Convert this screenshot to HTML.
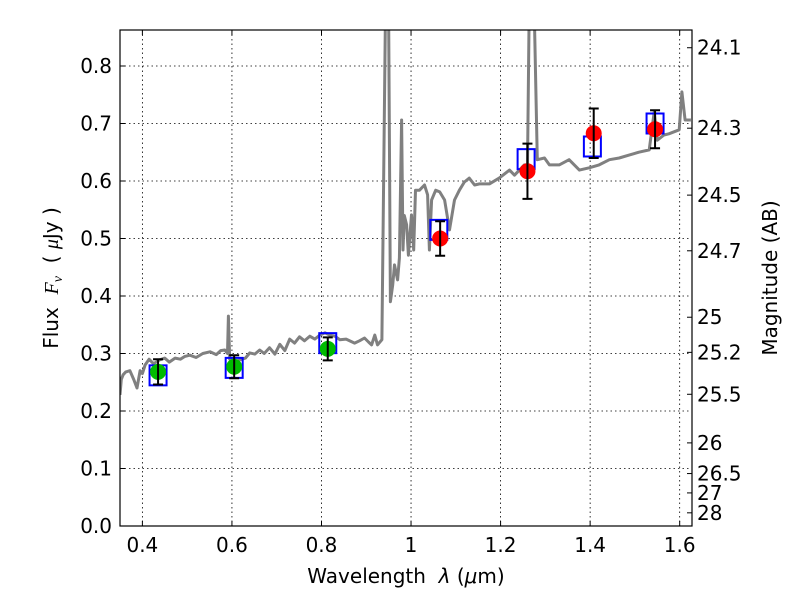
<!DOCTYPE html>
<html><head><meta charset="utf-8"><style>
body{margin:0;background:#fff}
svg text{font-family:"DejaVu Sans","Liberation Sans",sans-serif;fill:#000;white-space:pre}
</style></head><body>
<svg id="chart" width="800" height="600" xmlns="http://www.w3.org/2000/svg">
<rect width="800" height="600" fill="#fff"/>
<g id="grid"></g>
<g id="spec"></g>
<g id="marks"></g>
<rect x="120" y="30" width="572" height="496" fill="none" stroke="#000" stroke-width="1.2"/>
<g id="axes"></g>
<text x="406" y="583" font-size="20" text-anchor="middle">Wavelength&#160;&#160;<tspan font-style="italic">λ</tspan> (<tspan font-style="italic">μ</tspan>m)</text>
<text transform="translate(58,278) rotate(-90)" font-size="20" text-anchor="middle">Flux&#160;&#160;<tspan font-family="Liberation Serif" font-style="italic">F<tspan font-size="14" dy="4">ν</tspan></tspan><tspan dy="-4">&#160;&#160;(&#160;</tspan><tspan font-style="italic" font-family="Liberation Serif">μ</tspan>Jy )</text>
<text transform="translate(777,278) rotate(-90)" font-size="20" text-anchor="middle">Magnitude (AB)</text>
</svg>
<script>
const specLam=[0.350,0.353,0.357,0.363,0.372,0.381,0.388,0.395,0.400,0.406,0.415,0.425,0.439,0.450,0.460,0.473,0.485,0.495,0.506,0.520,0.535,0.551,0.565,0.575,0.584,0.590,0.592,0.595,0.605,0.618,0.630,0.640,0.651,0.662,0.672,0.684,0.696,0.707,0.718,0.729,0.740,0.751,0.762,0.774,0.785,0.796,0.808,0.818,0.830,0.841,0.855,0.874,0.885,0.896,0.905,0.912,0.919,0.925,0.935,0.943,0.946,0.950,0.954,0.959,0.963,0.970,0.974,0.979,0.982,0.985,0.990,0.994,1.001,1.006,1.010,1.019,1.030,1.037,1.041,1.046,1.055,1.064,1.075,1.086,1.097,1.108,1.119,1.130,1.142,1.153,1.175,1.197,1.220,1.231,1.242,1.253,1.260,1.264,1.275,1.282,1.298,1.309,1.331,1.353,1.376,1.398,1.420,1.443,1.465,1.487,1.509,1.532,1.543,1.550,1.565,1.576,1.599,1.605,1.612,1.625];
const specFlux=[0.228,0.255,0.263,0.268,0.270,0.254,0.240,0.270,0.265,0.280,0.290,0.282,0.289,0.292,0.285,0.292,0.290,0.295,0.297,0.293,0.300,0.303,0.298,0.305,0.306,0.300,0.365,0.290,0.285,0.289,0.292,0.301,0.299,0.306,0.300,0.310,0.299,0.316,0.305,0.325,0.318,0.329,0.322,0.330,0.325,0.332,0.336,0.332,0.330,0.324,0.325,0.318,0.322,0.327,0.320,0.315,0.332,0.315,0.324,0.900,0.900,0.900,0.390,0.419,0.454,0.428,0.466,0.706,0.480,0.540,0.524,0.471,0.541,0.480,0.584,0.584,0.593,0.576,0.480,0.567,0.584,0.581,0.567,0.515,0.567,0.584,0.598,0.605,0.593,0.595,0.595,0.605,0.619,0.610,0.619,0.628,0.628,0.900,0.900,0.637,0.640,0.628,0.628,0.637,0.619,0.623,0.628,0.637,0.640,0.645,0.650,0.654,0.720,0.671,0.680,0.682,0.689,0.755,0.706,0.706];
const obsLam=[0.435,0.605,0.814,1.065,1.260,1.408,1.545];
const obsFlux=[0.268,0.277,0.308,0.500,0.617,0.683,0.690];
const obsErr=[0.022,0.020,0.020,0.030,0.048,0.043,0.033];
const obsColor=['#00bb00','#00bb00','#00bb00','#ff0000','#ff0000','#ff0000','#ff0000'];
const modelLam=[0.435,0.605,0.814,1.062,1.257,1.405,1.545];
const modelFlux=[0.262,0.275,0.318,0.515,0.638,0.660,0.700];
const xTicks=[0.4,0.6,0.8,1.0,1.2,1.4,1.6];
const xTickLabels=['0.4','0.6','0.8','1','1.2','1.4','1.6'];
const yTicks=[0,0.1,0.2,0.3,0.4,0.5,0.6,0.7,0.8];
const yTickLabels=['0.0','0.1','0.2','0.3','0.4','0.5','0.6','0.7','0.8'];
const magTicks=[24.1,24.3,24.5,24.7,25,25.2,25.5,26,26.5,27,28];
const magLabels=['24.1','24.3','24.5','24.7','25','25.2','25.5','26','26.5','27','28'];

const X0=120,X1=692,Y0=526,Y1=30,xmin=0.35,xmax=1.6275,ymin=0,ymax=0.8626;
const sx=v=>X0+(v-xmin)/(xmax-xmin)*(X1-X0);
const sy=v=>Y0-(v-ymin)/(ymax-ymin)*(Y0-Y1);
const NS='http://www.w3.org/2000/svg';
function mk(tag,attrs,parent){const e=document.createElementNS(NS,tag);for(const k in attrs)e.setAttribute(k,attrs[k]);parent.appendChild(e);return e;}
const grid=document.getElementById('grid'),axes=document.getElementById('axes'),spec=document.getElementById('spec'),marks=document.getElementById('marks');

xTicks.forEach((t,i)=>{const x=sx(t);
 const g=mk('line',{x1:x,x2:x,y1:Y1,y2:Y0,stroke:'#000','stroke-width':0.8,'stroke-dasharray':'1.5,3'},grid);
 
 
 const tk=mk('line',{x1:x,x2:x,y1:Y0,y2:Y0-5,stroke:'#000'},axes);
 
 
 const tk2=mk('line',{x1:x,x2:x,y1:Y1,y2:Y1+5,stroke:'#000'},axes);
 
 
 const tx=mk('text',{x:x,y:Y0+26,'font-size':20,'text-anchor':'middle'},axes);tx.textContent=xTickLabels[i];
 
 
});
yTicks.forEach((t,i)=>{const y=sy(t);
 const g=mk('line',{x1:X0,x2:X1,y1:y,y2:y,stroke:'#000','stroke-width':0.8,'stroke-dasharray':'1.5,3'},grid);
 
 
 const tk=mk('line',{x1:X0,x2:X0+5,y1:y,y2:y,stroke:'#000'},axes);
 
 
 const tx=mk('text',{x:X0-8,y:y+7,'font-size':20,'text-anchor':'end'},axes);tx.textContent=yTickLabels[i];
 
 
});
magTicks.forEach((m,i)=>{const f=Math.pow(10,(23.9-m)/2.5);const y=sy(f);
 const tk=mk('line',{x1:X1-5,x2:X1,y1:y,y2:y,stroke:'#000'},axes);
 
 
 const tx=mk('text',{x:X1+5,y:y+7,'font-size':20},axes);tx.textContent=magLabels[i];
 
 
});
const cp=mk('clipPath',{id:'clip'},spec);mk('rect',{x:X0,y:Y1,width:X1-X0,height:Y0-Y1},cp);
const pts=specLam.map((l,i)=>sx(l).toFixed(1)+','+sy(specFlux[i]).toFixed(1)).join(' ');
const pl=mk('polyline',{points:pts,fill:'none',stroke:'#808080','stroke-width':3,'stroke-linejoin':'round','clip-path':'url(#clip)'},spec);


modelLam.forEach((l,i)=>{const x=sx(l),y=sy(modelFlux[i]);
 const r=mk('rect',{x:x-8.5,y:y-10,width:17,height:20,fill:'none',stroke:'#0000ff','stroke-width':2},marks);
 
 
});
obsLam.forEach((l,i)=>{const x=sx(l),y=sy(obsFlux[i]);
 const c=mk('circle',{cx:x,cy:y,r:8,fill:obsColor[i]},marks);
 
 
 const y1=sy(obsFlux[i]+obsErr[i]),y2=sy(obsFlux[i]-obsErr[i]);
 const e=mk('path',{d:`M${x},${y1}V${y2}M${x-5},${y1}H${x+5}M${x-5},${y2}H${x+5}`,stroke:'#000','stroke-width':2,fill:'none'},marks);
 
 
});
</script>
</body></html>
